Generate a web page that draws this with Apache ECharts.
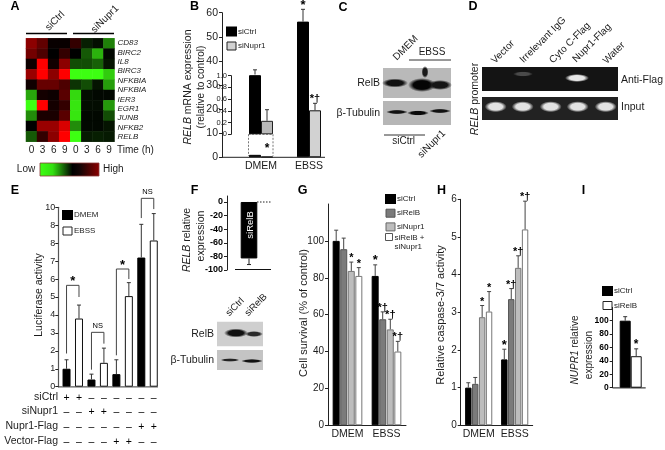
<!DOCTYPE html>
<html>
<head>
<meta charset="utf-8">
<style>
  html, body { margin: 0; padding: 0; background: #fff; }
  #chart { width: 665px; height: 450px; }
</style>
<script src="https://cdn.jsdelivr.net/npm/echarts@6/dist/echarts.min.js"></script>
</head>
<body>
<div id="chart"></div>
<script>
// A: heatmap
const heatColumns = ["0", "3", "6", "9", "0", "3", "6", "9"];
const heatGenes = ["CD83", "BIRC2", "IL8", "BIRC3", "NFKBIA", "NFKBIA", "IER3", "EGR1", "JUNB", "NFKB2", "RELB"];
const heatRows = ["r1", "r2", "r3", "r4", "r5", "r6", "r7", "r8", "r9", "r10"];
const heatValues = [
  [0.55, 0.38, 0.03, 0.03, 0.2, -0.12, -0.06, -0.5],
  [0.45, 0.3, 0, 0.2, 0, -0.35, -0.7, -0.03],
  [0.05, 1, 0.07, 0.55, -0.3, -0.3, -0.38, -0.08],
  [0.6, 1, 0.55, 1, -1, -1, -1, -0.8],
  [0.06, 0.4, 0.4, 0.3, -0.2, -0.3, -0.08, -0.62],
  [-0.65, 0.08, 0.05, 0.35, -0.85, -0.05, -0.03, -0.03],
  [-1, 1, 0.08, 0.2, -0.9, -0.05, -0.05, -0.6],
  [-0.55, 0.1, 0.1, 0.35, -0.9, -0.03, -0.03, -0.3],
  [0, 0.6, 0.6, 0.85, -0.55, -0.03, -0.03, -0.08],
  [-0.35, 0.2, 0.55, 1, -1, -0.1, -0.12, -0.1]
];

// B: RELB mRNA
const bCategories = ["DMEM", "EBSS"];
const bCtrl = [1.02, 56.3];
const bCtrlErr = [1.1, 61.4];
const bNupr = [0.23, 19.5];
const bNuprErr = [0.42, 22.4];
const bCtrlMarks = ["", "*"];
const bNuprMarks = ["", "*†"];

// E: luciferase
const eRowNames = ["siCtrl", "siNupr1", "Nupr1-Flag", "Vector-Flag"];
const eRows = [
  ["+", "+", "–", "–", "–", "–", "–", "–"],
  ["–", "–", "+", "+", "–", "–", "–", "–"],
  ["–", "–", "–", "–", "–", "–", "+", "+"],
  ["–", "–", "–", "–", "+", "+", "–", "–"]
];
const eDmem = [1.0, null, 0.4, null, 0.7, null, 7.2, null];
const eEbss = [null, 3.8, null, 1.33, null, 5.05, null, 8.15];
const eErr = [1.5, 4.55, 0.7, 2.15, 1.5, 5.8, 9.05, 9.65];
const eTickLabels = ["0", "1", "2", "3", "4", "5", "6", "7", "8", "8", "10"];
const eBrackets = [
  [0, 1, 5.65, 1.85, 5.0, "*"],
  [2, 3, 3.03, 0.95, 2.4, "NS"],
  [4, 5, 6.56, 1.75, 6.0, "*"],
  [6, 7, 10.5, 9.4, 9.9, "NS"]
];

// F: siRelB
const fValue = [-83];
const fErr = [-92];

// G: cell survival
const gCategories = ["DMEM", "EBSS"];
const gCtrl = [100, 81];
const gCtrlErr = [105.8, 87];
const gRelb = [95.5, 57.5];
const gRelbErr = [101.5, 61.5];
const gNupr = [83.7, 52];
const gNuprErr = [88.5, 57.5];
const gBoth = [81, 40];
const gBothErr = [85.5, 45.5];
const gMarks = [["", "*"], ["", "*†"], ["*", "*†"], ["*", "*†"]];

// H: caspase
const hCtrl = [1.0, 1.75];
const hCtrlErr = [1.13, 2.02];
const hRelb = [1.1, 3.35];
const hRelbErr = [1.27, 3.63];
const hNupr = [2.87, 4.18];
const hNuprErr = [3.18, 4.5];
const hBoth = [3.02, 5.2];
const hBothErr = [3.55, 5.95];
const hMarks = [["", "*"], ["", "*†"], ["*", "*†"], ["*", "*†"]];

// I: NUPR1
const iCtrl = [100];
const iCtrlErr = [106];
const iRelb = [47];
const iRelbErr = [58];

const FONT = "Liberation Sans";
const INK = "#1c1c1c";

const graphics = [];
function text(x, y, str, size, opts) {
  const o = opts || {};
  graphics.push({
    type: "text", x: x, y: y, rotation: o.rot || 0, z: 20,
    style: {
      text: str, fill: o.color || INK, fontFamily: FONT, fontSize: size,
      fontWeight: o.weight || "normal", fontStyle: o.style || "normal",
      align: o.align || "center", verticalAlign: "middle", rich: o.rich
    }
  });
}
function line(x1, y1, x2, y2, color, width, dash) {
  graphics.push({
    type: "line", z: 15,
    shape: { x1: x1, y1: y1, x2: x2, y2: y2 },
    style: { stroke: color || INK, lineWidth: width || 1, lineDash: dash }
  });
}
function rect(x, y, w, h, fill) {
  graphics.push({ type: "rect", z: 5, shape: { x: x, y: y, width: w, height: h }, style: { fill: fill } });
}
// blot band: a circle squashed by scale so the gradient follows the ellipse
function band(cx, cy, rx, ry, color, clear) {
  graphics.push({
    type: "circle", z: 6, x: cx, y: cy, scaleX: rx / ry,
    shape: { cx: 0, cy: 0, r: ry },
    style: {
      fill: new echarts.graphic.RadialGradient(0.5, 0.5, 0.5, [
        { offset: 0, color: color },
        { offset: 0.62, color: color },
        { offset: 1, color: clear }
      ])
    }
  });
}

// bar helper, one per series so legends stay native
function bars(name, grid, values, color, border, width) {
  return {
    type: "bar", name: name, xAxisIndex: grid, yAxisIndex: grid, data: values,
    barWidth: width, barGap: 0, silent: true, z: 3, animation: false,
    itemStyle: { color: color, borderColor: border, borderWidth: 1 }
  };
}

// whisker from the bar top up to the error value, with an optional mark above
function whiskers(grid, bases, tops, offset, color, marks, markSize) {
  return {
    type: "custom", name: "err", xAxisIndex: grid, yAxisIndex: grid, silent: true, z: 4, animation: false,
    encode: { x: 0, y: 1 },
    data: tops.map((t, i) => [i, t, bases[i]]).filter(d => d[1] != null),
    renderItem(params, api) {
      const top = api.coord([api.value(0), api.value(1)]);
      const bottom = api.coord([api.value(0), api.value(2)]);
      const x = top[0] + offset;
      const children = [
        { type: "line", shape: { x1: x, y1: bottom[1], x2: x, y2: top[1] }, style: { stroke: color, lineWidth: 1 } },
        { type: "line", shape: { x1: x - 2, y1: top[1], x2: x + 2, y2: top[1] }, style: { stroke: color, lineWidth: 1 } }
      ];
      const mark = marks ? marks[api.value(0)] : "";
      if (mark) {
        children.push({
          type: "text", x: x, y: top[1] - 4,
          style: { text: mark, fill: "#000", fontFamily: FONT, fontSize: markSize || 12, fontWeight: "bold", align: "center", verticalAlign: "middle" }
        });
      }
      return { type: "group", children: children };
    }
  };
}

function valueAxis(grid, min, max, interval, size, extra) {
  return Object.assign({
    type: "value", gridIndex: grid, min: min, max: max, interval: interval,
    splitLine: { show: false },
    axisLine: { show: true, lineStyle: { color: "#222", width: 1 } },
    axisTick: { show: true, length: 3, lineStyle: { color: "#222" } },
    axisLabel: { show: true, color: INK, fontFamily: FONT, fontSize: size, margin: 4 }
  }, extra || {});
}
function catAxis(grid, data, size, extra) {
  return Object.assign({
    type: "category", gridIndex: grid, data: data,
    axisLine: { show: true, onZero: false, lineStyle: { color: "#222", width: 1 } },
    axisTick: { show: false },
    axisLabel: { show: true, color: INK, fontFamily: FONT, fontSize: size, margin: 3, interval: 0 }
  }, extra || {});
}
function legendBox(left, top, gap, names, size) {
  return {
    left: left, top: top, orient: "vertical", padding: 0, itemGap: gap, itemWidth: 9, itemHeight: 8,
    selectedMode: false, icon: "rect",
    textStyle: { color: INK, fontFamily: FONT, fontSize: size || 8, padding: [0, 0, 0, -3] },
    data: names
  };
}

const heatData = [];
heatValues.forEach((row, r) => row.forEach((v, c) => heatData.push([c, r, v])));

const eCategories = eRows[0].map((_, i) => eRows.map(r => r[i]).join("\n"));

const survivalBars = [
  bars("siCtrl", 5, gCtrl, "#000", "#000", 7),
  bars("siRelB", 5, gRelb, "#7b7b7b", "#555", 7),
  bars("siNupr1", 5, gNupr, "#bdbdbd", "#777", 7),
  bars("siRelB + siNupr1", 5, gBoth, "#fff", "#777", 7)
];
const caspaseBars = [
  bars("siCtrl", 6, hCtrl, "#000", "#000", 6.4),
  bars("siRelB", 6, hRelb, "#7b7b7b", "#555", 6.4),
  bars("siNupr1", 6, hNupr, "#bdbdbd", "#777", 6.4),
  bars("siRelB + siNupr1", 6, hBoth, "#fff", "#777", 6.4)
];
survivalBars.forEach(s => { s.barGap = "8%"; });
caspaseBars.forEach(s => { s.barGap = "8%"; });

const option = {
  backgroundColor: "#fff",
  animation: false,
  grid: [
    { left: 26, top: 38.3, width: 88.5, height: 103.4 },
    { left: 237, top: 12.7, width: 96, height: 144.6 },
    { left: 237, top: 75.7, width: 48, height: 58.6 },
    { left: 60.3, top: 207.3, width: 99.7, height: 179.4 },
    { left: 231, top: 196, width: 36, height: 74 },
    { left: 328, top: 204, width: 78, height: 221.3 },
    { left: 460.7, top: 199.3, width: 72, height: 226 },
    { left: 615.4, top: 307.3, width: 30.6, height: 80.4 }
  ],
  xAxis: [
    catAxis(0, heatColumns, 10, {
      axisLine: { show: false },
      axisLabel: { color: INK, fontFamily: FONT, fontSize: 10, margin: 4, interval: 0 }
    }),
    catAxis(1, bCategories, 10.5, { axisLine: { show: false } }),
    catAxis(2, bCategories.slice(0, 1), 8, { axisLine: { show: false }, axisLabel: { show: false } }),
    catAxis(3, eCategories, 10.5, {
      axisLine: { show: false },
      axisLabel: { color: "#000", fontFamily: FONT, fontSize: 10.5, lineHeight: 14.6, margin: 4, interval: 0 }
    }),
    catAxis(4, ["siRelB"], 8, { axisLine: { show: false }, axisLabel: { show: false } }),
    catAxis(5, gCategories, 10.5),
    catAxis(6, gCategories, 10.5),
    catAxis(7, ["NUPR1"], 8, { axisLine: { show: false }, axisLabel: { show: false } })
  ],
  yAxis: [
    { type: "category", gridIndex: 0, data: heatRows, inverse: true, axisLine: { show: false }, axisTick: { show: false }, axisLabel: { show: false } },
    valueAxis(1, 0, 60, 10, 10.5, { offset: 15 }),
    valueAxis(2, 0, 1, 0.2, 7.5, {
      offset: 6,
      axisLabel: { color: INK, fontFamily: FONT, fontSize: 7.5, margin: 4, formatter: v => (v === 0 ? "0" : v.toFixed(1)) }
    }),
    valueAxis(3, 0, 10, 1, 9, {
      offset: 2,
      axisLine: { show: true, lineStyle: { color: "#555", width: 1.2 } },
      axisLabel: { color: INK, fontFamily: FONT, fontSize: 9, margin: 3, formatter: v => eTickLabels[v] }
    }),
    valueAxis(4, -100, 8.8, 20, 9, {
      offset: 4,
      axisLabel: { color: "#000", fontFamily: FONT, fontSize: 9, fontWeight: "bold", margin: 4, showMaxLabel: false }
    }),
    valueAxis(5, 0, 120, 20, 10, { axisLabel: { color: INK, fontFamily: FONT, fontSize: 10, margin: 4, showMaxLabel: false } }),
    valueAxis(6, 0, 6, 1, 10),
    valueAxis(7, 0, 120, 20, 8.5, {
      offset: 2.7,
      axisLabel: { color: "#000", fontFamily: FONT, fontSize: 8.5, fontWeight: "bold", margin: 4, showMaxLabel: false }
    }),
    {
      type: "category", gridIndex: 0, data: heatGenes, inverse: true, position: "right",
      axisLine: { show: false }, axisTick: { show: false },
      axisLabel: { show: true, interval: 0, color: INK, fontFamily: FONT, fontSize: 8, fontStyle: "italic", margin: 3 }
    }
  ],
  visualMap: {
    show: false, type: "continuous", seriesIndex: 0, min: -1, max: 1,
    inRange: { color: ["#3dff12", "#000000", "#ff0000"] }
  },
  legend: [
    legendBox(226, 26.5, 5, [
      { name: "siCtrl", itemStyle: { color: "#000", borderColor: "#000" } },
      { name: "siNupr1", itemStyle: { color: "#d2d2d2", borderColor: "#222", borderWidth: 1 } }
    ]),
    legendBox(62, 210, 6.5, [
      { name: "DMEM", itemStyle: { color: "#000", borderColor: "#000" } },
      { name: "EBSS", itemStyle: { color: "#fff", borderColor: "#222", borderWidth: 1 } }
    ]),
    legendBox(385, 194, 4.7, [
      { name: "siCtrl", itemStyle: { color: "#000", borderColor: "#000" } },
      { name: "siRelB", itemStyle: { color: "#7b7b7b", borderColor: "#555", borderWidth: 1 } },
      { name: "siNupr1", itemStyle: { color: "#bdbdbd", borderColor: "#666", borderWidth: 1 } }
    ]),
    legendBox(602, 286, 5, [
      { name: "siCtrl", itemStyle: { color: "#000", borderColor: "#000" } },
      { name: "siRelB", itemStyle: { color: "#fff", borderColor: "#222", borderWidth: 1 } }
    ])
  ],
  series: [
    {
      type: "heatmap", xAxisIndex: 0, yAxisIndex: 0, data: heatData, silent: true,
      itemStyle: { borderWidth: 0 }, emphasis: { disabled: true }
    },

    bars("siCtrl", 1, bCtrl, "#000", "#000", 12),
    bars("siNupr1", 1, bNupr, "#d2d2d2", "#111", 12),
    whiskers(1, [null, bCtrl[1]], [null, bCtrlErr[1]], -6, "#333", bCtrlMarks, 13),
    whiskers(1, [null, bNupr[1]], [null, bNuprErr[1]], 6, "#333", bNuprMarks, 11),

    bars("siCtrl", 2, bCtrl.slice(0, 1), "#000", "#000", 12),
    bars("siNupr1", 2, bNupr.slice(0, 1), "#b9b9b9", "#222", 12),
    whiskers(2, [bCtrl[0]], [bCtrlErr[0]], -6, "#333"),
    whiskers(2, [bNupr[0]], [bNuprErr[0]], 6, "#333"),

    {
      type: "bar", name: "DMEM", xAxisIndex: 3, yAxisIndex: 3, data: eDmem, barWidth: 8, barGap: "-100%", silent: true,
      itemStyle: { color: "#000", borderColor: "#000", borderWidth: 1 }
    },
    {
      type: "bar", name: "EBSS", xAxisIndex: 3, yAxisIndex: 3, data: eEbss, barWidth: 8, barGap: "-100%", silent: true,
      itemStyle: { color: "#fff", borderColor: "#111", borderWidth: 1 }
    },
    whiskers(3, eDmem.map((v, i) => (v == null ? eEbss[i] : v)), eErr, 0, "#333"),
    {
      type: "custom", name: "brackets", xAxisIndex: 3, yAxisIndex: 3, silent: true, z: 4,
      encode: { x: 0, y: 2 },
      data: eBrackets.map(b => b.slice(0, 5)),
      renderItem(params, api) {
        const a = api.coord([api.value(0), api.value(2)]);
        const b = api.coord([api.value(1), api.value(2)]);
        const aEnd = api.coord([api.value(0), api.value(3)]);
        const bEnd = api.coord([api.value(1), api.value(4)]);
        const label = eBrackets[params.dataIndex][5];
        return {
          type: "group",
          children: [
            { type: "polyline", shape: { points: [aEnd, a, b, bEnd] }, style: { stroke: "#444", lineWidth: 1, fill: "none" } },
            {
              type: "text", x: (a[0] + b[0]) / 2, y: a[1] - (label === "*" ? 4 : 6),
              style: {
                text: label, fill: "#000", fontFamily: FONT, align: "center", verticalAlign: "middle",
                fontSize: label === "*" ? 13 : 7.5,
                fontWeight: label === "*" ? "bold" : "normal"
              }
            }
          ]
        };
      }
    },

    bars("siRelB", 4, fValue, "#000", "#000", 16.6),
    whiskers(4, fValue, fErr, 0, "#222"),

    survivalBars[0], survivalBars[1], survivalBars[2], survivalBars[3],
    whiskers(5, gCtrl, gCtrlErr, -11.3, "#444", gMarks[0], 13),
    whiskers(5, gRelb, gRelbErr, -3.8, "#444", gMarks[1], 11),
    whiskers(5, gNupr, gNuprErr, 3.8, "#444", gMarks[2], 11),
    whiskers(5, gBoth, gBothErr, 11.3, "#444", gMarks[3], 11),

    caspaseBars[0], caspaseBars[1], caspaseBars[2], caspaseBars[3],
    whiskers(6, hCtrl, hCtrlErr, -10.4, "#444", hMarks[0], 13),
    whiskers(6, hRelb, hRelbErr, -3.45, "#444", hMarks[1], 11),
    whiskers(6, hNupr, hNuprErr, 3.45, "#444", hMarks[2], 11),
    whiskers(6, hBoth, hBothErr, 10.4, "#444", hMarks[3], 11),

    bars("siCtrl", 7, iCtrl, "#000", "#000", 11),
    bars("siRelB", 7, iRelb, "#fff", "#111", 11),
    whiskers(7, iCtrl, iCtrlErr, -5.5, "#333"),
    whiskers(7, iRelb, iRelbErr, 5.5, "#333", ["*"], 12)
  ],
  graphic: graphics
};

// panel letters
[["A", 15, 7], ["B", 194.5, 7], ["C", 343, 7.5], ["D", 473, 7], ["E", 15, 191], ["F", 194.5, 191], ["G", 302.5, 191], ["H", 441.5, 191], ["I", 583.5, 191]]
  .forEach(p => text(p[1], p[2], p[0], 12.5, { weight: "bold", color: "#000" }));

// A extras
line(26, 33.5, 67, 33.5, "#000", 1.6);
line(73, 33.5, 114, 33.5, "#000", 1.6);
text(55, 21, "siCtrl", 10, { rot: Math.PI / 4 });
text(105, 19, "siNupr1", 10, { rot: Math.PI / 4 });
text(117, 150, "Time (h)", 10, { align: "left" });
text(26, 169.5, "Low", 10);
text(103, 169.5, "High", 10, { align: "left" });
graphics.push({
  type: "rect", z: 5,
  shape: { x: 40, y: 163, width: 59, height: 13 },
  style: {
    stroke: "#8a3a3a", lineWidth: 0.8,
    fill: new echarts.graphic.LinearGradient(0, 0, 1, 0, [
      { offset: 0, color: "#3dff12" },
      { offset: 0.22, color: "#33e010" },
      { offset: 0.55, color: "#000" },
      { offset: 0.68, color: "#150505" },
      { offset: 1, color: "#8c0000" }
    ])
  }
});

// B extras
line(222, 157.3, 325, 157.3, "#222", 1);
const RICH_I = s => ({ i: { fontStyle: "italic", fontFamily: FONT, fontSize: s, fill: INK }, n: { fontFamily: FONT, fontSize: s, fill: INK } });
text(188, 87, "{i|RELB}{n| mRNA expression}", 10.5, { rot: Math.PI / 2, rich: RICH_I(10.5) });
text(201, 87, "(relative to control)", 10, { rot: Math.PI / 2 });
line(248.5, 134.3, 248.5, 156, "#777", 1, [2, 1.5]);
line(273, 134.3, 273, 156, "#777", 1, [2, 1.5]);
line(248.5, 134.5, 273, 134.5, "#777", 1, [2, 1.5]);
text(267, 149, "*", 12, { weight: "bold", color: "#000" });

// C blots
rect(383, 68, 68, 30, "#b9b9b9");
band(395, 83, 13, 4.5, "#111", "rgba(17,17,17,0)");
band(422, 85, 14, 7, "#050505", "rgba(5,5,5,0)");
band(425, 72, 3.5, 6, "#1a1a1a", "rgba(26,26,26,0)");
band(440, 85, 12, 5, "#161616", "rgba(22,22,22,0)");
rect(383, 101, 68, 24, "#b6b6b6");
band(397, 112, 11, 2.2, "#111", "rgba(17,17,17,0)");
band(418, 113, 11, 2.6, "#0a0a0a", "rgba(10,10,10,0)");
band(440, 111, 11, 2.2, "#111", "rgba(17,17,17,0)");
text(380, 83, "RelB", 10.5, { align: "right" });
text(380, 113, "β-Tubulin", 10.5, { align: "right" });
text(405.7, 48, "DMEM", 10, { rot: Math.PI / 4 });
text(432, 52, "EBSS", 10);
line(409, 60, 451, 60, "#333", 1);
line(384, 135, 425, 135, "#333", 1);
text(403.7, 141.5, "siCtrl", 10);
text(431.7, 144, "siNupr1", 10, { rot: Math.PI / 4 });

// D gels
rect(482, 67, 136, 24, "#141414");
band(523, 74, 10, 2.6, "#4a4a4a", "rgba(74,74,74,0)");
band(577, 78, 12, 4, "#e6e6e6", "rgba(230,230,230,0)");
rect(482, 97, 136, 23, "#222");
[495.7, 522.7, 550.7, 577.7, 605.7].forEach(x => band(x, 106.7, 11, 5.5, "#e2e2e2", "rgba(226,226,226,0)"));
[["Vector", 503, 52], ["Irrelevant IgG", 543, 40], ["Cyto C-Flag", 570, 43], ["Nupr1-Flag", 592, 43], ["Water", 614, 53]]
  .forEach(l => text(l[1], l[2], l[0], 10, { rot: Math.PI / 4 }));
text(621, 80, "Anti-Flag", 10.5, { align: "left" });
text(621, 107, "Input", 10.5, { align: "left" });
text(475, 99, "{i|RELB}{n| promoter}", 10.5, { rot: Math.PI / 2, rich: RICH_I(10.5) });

// E extras
line(58, 386.9, 158, 386.9, "#333", 1);
text(39, 295, "Luciferase activity", 10.5, { rot: Math.PI / 2 });
eRowNames.forEach((n, i) => text(58, [397.3, 411, 426, 441][i], n, 10.5, { align: "right" }));

// F extras
line(235, 269.5, 271, 269.5, "#111", 1);
line(257, 202, 271, 202, "#222", 1, [1.5, 1.5]);
text(250, 225, "siRelB", 9.5, { rot: Math.PI / 2, color: "#fff" });
text(187, 240, "{i|RELB}{n| relative}", 10.5, { rot: Math.PI / 2, rich: RICH_I(10.5) });
text(200.7, 236, "expression", 10.5, { rot: Math.PI / 2 });
rect(217, 321.7, 46, 24.5, "#cfcfcf");
band(236, 333, 12, 4.5, "#111", "rgba(17,17,17,0)");
band(254, 334, 9, 3, "#2a2a2a", "rgba(42,42,42,0)");
rect(217, 350, 46, 20, "#c4c4c4");
band(230, 360, 9.5, 1.8, "#222", "rgba(34,34,34,0)");
band(252, 361, 11, 2, "#111", "rgba(17,17,17,0)");
text(214, 334, "RelB", 10.5, { align: "right" });
text(214, 360, "β-Tubulin", 10.5, { align: "right" });
text(235, 307, "siCtrl", 9.5, { rot: Math.PI / 4 });
text(256, 305, "siRelB", 9.5, { rot: Math.PI / 4 });

// G extras
text(304, 313, "Cell survival (% of control)", 11, { rot: Math.PI / 2 });
graphics.push({ type: "rect", z: 5, shape: { x: 385.5, y: 233.5, width: 7, height: 7 }, style: { fill: "#fff", stroke: "#555", lineWidth: 1 } });
text(394.5, 238, "siRelB +", 8, { align: "left" });
text(394.5, 247, "siNupr1", 8, { align: "left" });

// H extras
text(441, 315, "Relative caspase-3/7 activity", 11, { rot: Math.PI / 2 });

// I extras
line(612.7, 387.9, 645.7, 387.9, "#111", 1);
text(575, 350, "{i|NUPR1}{n| relative}", 10, { rot: Math.PI / 2, rich: RICH_I(10) });
text(589, 355, "expression", 10, { rot: Math.PI / 2 });

const chart = echarts.init(document.getElementById("chart"), null, { renderer: "canvas" });
chart.setOption(option);
</script>
</body>
</html>
